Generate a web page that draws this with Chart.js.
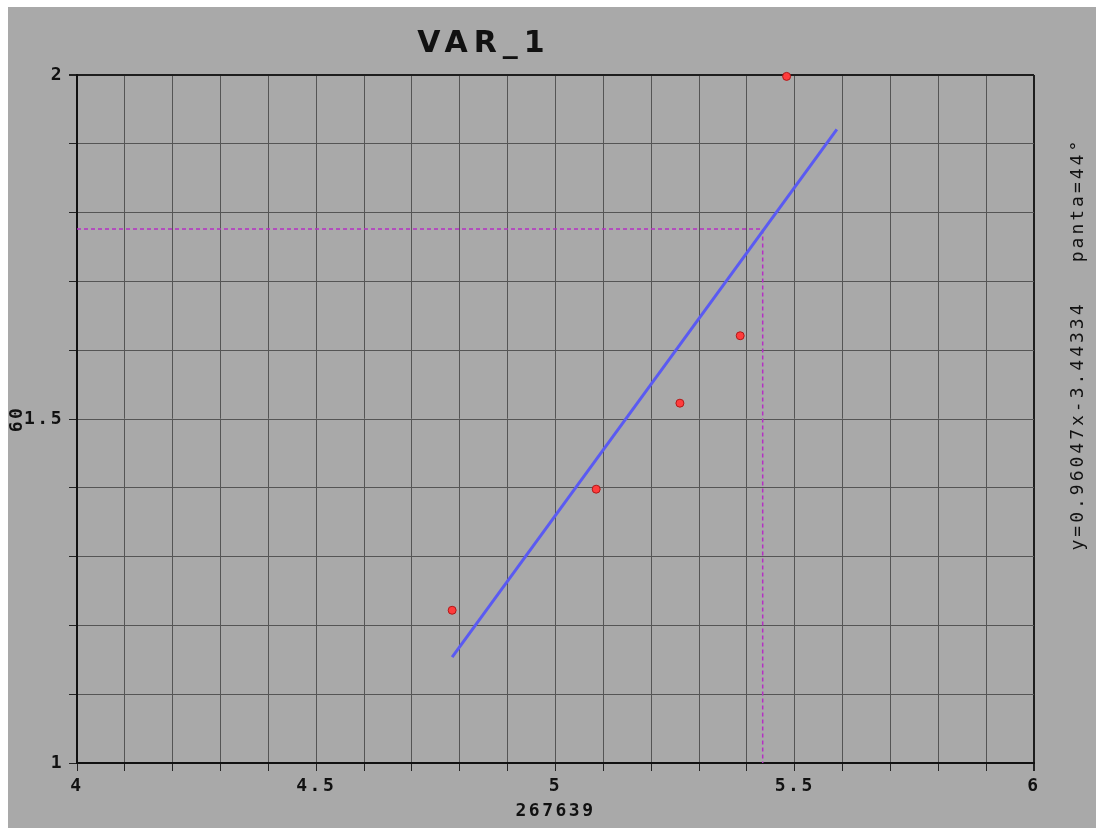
<!DOCTYPE html>
<html>
<head>
<meta charset="utf-8">
<title>VAR_1</title>
<script src="https://cdn.jsdelivr.net/npm/chart.js@4"></script>
<style>
    body { margin: 0; background: #fff; }
    #wrap { position: absolute; left: 8px; top: 7px; width: 1088px; height: 821px; }
    canvas { background: #a9a9a9; }
</style>
</head>
<body>
<div id="wrap"><canvas id="chart" width="1088" height="821"></canvas></div>
<script>
// DATA
const chartTitle = "VAR_1";
const xTitle = "267639";
const yTitle = "60";
const equationText = "y=0.96047x-3.44334";
const slopeText = "panta=44°";

const pointX = [4.784, 5.085, 5.260, 5.386, 5.483];
const pointY = [1.222, 1.398, 1.523, 1.621, 1.998];

const fitX = [4.784, 5.588];
const fitY = [1.154, 1.921];

// dotted guide: horizontal to the fit line, then down to the x axis
const guideX = [4, 5.433, 5.433];
const guideY = [1.776, 1.776, 1];

const xRange = [4, 6];
const yRange = [1, 2];

const toPoints = (xs, ys) => xs.map((x, i) => ({ x: x, y: ys[i] }));

const tickFont = { family: "'DejaVu Sans Mono'", size: 18, weight: "bold" };

function tickLabel(v) {
    const r = Math.round(v * 10);
    return r % 5 === 0 ? String(r / 10) : "";
}

function gridColor(ctx) {
    const v = ctx.tick ? ctx.tick.value : 0;
    return (v === xRange[1] || v === yRange[1]) ? "#1e1e1e" : "#555";
}

function gridWidth(ctx) {
    const v = ctx.tick ? ctx.tick.value : 0;
    return (v === xRange[1] || v === yRange[1]) ? 2 : 1;
}

// TEXT (title + equation on the right)
const textPlugin = {
    id: "sideText",
    beforeUpdate(chart) { chart.ctx.letterSpacing = "2.5px"; },
    beforeDraw(chart) { chart.ctx.letterSpacing = "2.5px"; },
    afterDraw(chart) {
        const ctx = chart.ctx;
        ctx.save();
        ctx.fillStyle = "#111";
        ctx.textAlign = "center";
        ctx.textBaseline = "middle";

        ctx.font = "bold 30px 'DejaVu Sans'";
        ctx.letterSpacing = "6px";
        ctx.fillText(chartTitle, 476, 37);

        ctx.font = "18px 'DejaVu Sans Mono'";
        ctx.letterSpacing = "3px";
        ctx.translate(1070, 0);
        ctx.rotate(-Math.PI / 2);
        ctx.fillText(equationText, -419, 0);
        ctx.fillText(slopeText, -193, 0);
        ctx.restore();
    }
};

Chart.defaults.color = "#111";

new Chart(document.getElementById("chart"), {
    type: "scatter",
    data: {
        datasets: [
            {
                label: "points",
                data: toPoints(pointX, pointY),
                pointRadius: 4,
                pointBackgroundColor: "#ff3c3c",
                pointBorderColor: "#b01818",
                pointBorderWidth: 1,
                clip: false,
                order: 0
            },
            {
                label: "fit",
                data: toPoints(fitX, fitY),
                showLine: true,
                borderColor: "#5a5af2",
                borderWidth: 3,
                pointRadius: 0,
                order: 1
            },
            {
                label: "guide",
                data: toPoints(guideX, guideY),
                showLine: true,
                borderColor: "#b52fc4",
                borderWidth: 1.5,
                borderDash: [4, 3],
                pointRadius: 0,
                order: 2
            }
        ]
    },
    plugins: [textPlugin],
    options: {
        responsive: false,
        animation: false,
        layout: { padding: { top: 68, right: 62, bottom: 0, left: 0 } },
        plugins: {
            legend: { display: false },
            tooltip: { enabled: false }
        },
        scales: {
            x: {
                type: "linear",
                min: xRange[0],
                max: xRange[1],
                afterFit: s => { s.height = 65; },
                ticks: {
                    stepSize: 0.1,
                    autoSkip: false,
                    maxRotation: 0,
                    padding: 5,
                    font: tickFont,
                    callback: tickLabel
                },
                grid: { color: gridColor, lineWidth: gridWidth, tickLength: 8, tickColor: "#222" },
                border: { color: "#111", width: 2 },
                title: { display: true, text: xTitle, font: tickFont, padding: { top: 0, bottom: 6 } }
            },
            y: {
                type: "linear",
                min: yRange[0],
                max: yRange[1],
                afterFit: s => { s.width = 69; },
                ticks: {
                    stepSize: 0.1,
                    autoSkip: false,
                    padding: 5,
                    font: tickFont,
                    callback: tickLabel
                },
                grid: { color: gridColor, lineWidth: gridWidth, tickLength: 8, tickColor: "#222" },
                border: { color: "#111", width: 2 },
                title: { display: true, text: yTitle, font: tickFont, padding: { top: -1, bottom: 0 } }
            }
        }
    }
});
</script>
</body>
</html>
